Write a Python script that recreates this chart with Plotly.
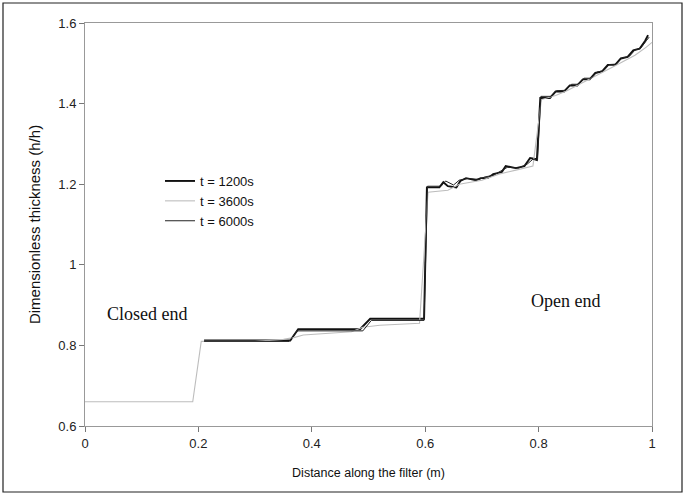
import plotly.graph_objects as go

# Thickness profiles along the filter at three times
x_1200 = [0.21, 0.30, 0.362, 0.376, 0.485, 0.503, 0.598, 0.603, 0.625, 0.632, 0.640, 0.655,
          0.662, 0.672, 0.690, 0.698, 0.710, 0.720, 0.735, 0.742, 0.760, 0.775, 0.785, 0.797,
          0.803, 0.820, 0.830, 0.845, 0.855, 0.868, 0.878, 0.890, 0.900, 0.912, 0.922, 0.935,
          0.945, 0.957, 0.967, 0.978, 0.988, 0.993]
y_1200 = [0.812, 0.812, 0.812, 0.840, 0.840, 0.866, 0.866, 1.192, 1.192, 1.205, 1.195, 1.192,
          1.208, 1.215, 1.210, 1.215, 1.215, 1.225, 1.230, 1.245, 1.240, 1.245, 1.265, 1.262,
          1.414, 1.414, 1.430, 1.430, 1.445, 1.445, 1.460, 1.460, 1.476, 1.480, 1.496, 1.496,
          1.512, 1.516, 1.532, 1.536, 1.556, 1.570]

x_3600 = [0.0, 0.19, 0.205, 0.30, 0.35, 0.37, 0.385, 0.47, 0.49, 0.52, 0.59, 0.605,
          0.640, 0.660, 0.700, 0.730, 0.760, 0.790, 0.805, 0.830, 0.850, 0.870, 0.890,
          0.910, 0.930, 0.950, 0.970, 0.990, 1.0]
y_3600 = [0.660, 0.660, 0.810, 0.810, 0.815, 0.820, 0.826, 0.834, 0.845, 0.850, 0.855, 1.180,
          1.185, 1.200, 1.210, 1.225, 1.235, 1.245, 1.410, 1.420, 1.432, 1.446, 1.460,
          1.474, 1.490, 1.505, 1.520, 1.540, 1.552]

x_6000 = [0.21, 0.36, 0.374, 0.49, 0.505, 0.598, 0.604, 0.628, 0.636, 0.650, 0.660, 0.675,
          0.695, 0.705, 0.720, 0.738, 0.745, 0.765, 0.780, 0.790, 0.798, 0.804, 0.822,
          0.832, 0.848, 0.858, 0.870, 0.880, 0.893, 0.903, 0.915, 0.925, 0.937, 0.947,
          0.960, 0.970, 0.980, 0.990, 0.995]
y_6000 = [0.810, 0.810, 0.836, 0.836, 0.862, 0.862, 1.195, 1.195, 1.208, 1.198, 1.210, 1.214,
          1.212, 1.218, 1.222, 1.235, 1.242, 1.240, 1.250, 1.262, 1.258, 1.418, 1.418,
          1.432, 1.433, 1.448, 1.448, 1.463, 1.463, 1.478, 1.482, 1.497, 1.498, 1.513,
          1.517, 1.533, 1.537, 1.556, 1.565]

x_ticks = [0, 0.2, 0.4, 0.6, 0.8, 1]
x_tick_text = ["0", "0.2", "0.4", "0.6", "0.8", "1"]
y_ticks = [0.6, 0.8, 1.0, 1.2, 1.4, 1.6]
y_tick_text = ["0.6", "0.8", "1", "1.2", "1.4", "1.6"]

W, H = 685, 495
L, R, T, B = 85, 33, 23, 69
pw, ph = W - L - R, H - T - B

fig = go.Figure()
fig.add_trace(go.Scatter(x=x_1200, y=y_1200, mode="lines", name="t = 1200s",
                         line=dict(color="#111111", width=1.9)))
fig.add_trace(go.Scatter(x=x_3600, y=y_3600, mode="lines", name="t = 3600s",
                         line=dict(color="#bdbdbd", width=1.1)))
fig.add_trace(go.Scatter(x=x_6000, y=y_6000, mode="lines", name="t = 6000s",
                         line=dict(color="#222222", width=1.0)))

sans = "Liberation Sans, Arial, sans-serif"
serif = "Liberation Serif, Times New Roman, serif"
tick_font = dict(family=sans, size=13, color="#222222")

fig.update_layout(
    width=W, height=H,
    margin=dict(l=L, r=R, t=T, b=B),
    paper_bgcolor="white", plot_bgcolor="white",
    showlegend=True,
    legend=dict(x=(160 - L) / pw, y=(426 - 166) / ph, xanchor="left", yanchor="top",
                bgcolor="rgba(0,0,0,0)", font=dict(family=sans, size=13, color="#111111"),
                itemwidth=30, tracegroupgap=0),
    xaxis=dict(range=[0, 1], tickvals=x_ticks, ticktext=x_tick_text, showgrid=False,
               zeroline=False, showline=True, linecolor="#999999", linewidth=1, mirror=True,
               ticks="outside", ticklen=5, tickcolor="#777777", tickfont=tick_font,
               title=dict(text="Distance along the filter (m)",
                          font=dict(family=sans, size=12.5, color="#111111"), standoff=18)),
    yaxis=dict(range=[0.6, 1.6], tickvals=y_ticks, ticktext=y_tick_text, showgrid=False,
               zeroline=False, showline=True, linecolor="#999999", linewidth=1, mirror=True,
               ticks="outside", ticklen=5, tickcolor="#777777", tickfont=tick_font,
               title=dict(text="Dimensionless thickness (h/h)",
                          font=dict(family=sans, size=15, color="#111111"), standoff=14)),
)

# Region labels
fig.add_annotation(x=0.110, y=0.878, xref="x", yref="y", text="Closed end",
                   showarrow=False, font=dict(family=serif, size=18, color="#111111"))
fig.add_annotation(x=0.848, y=0.910, xref="x", yref="y", text="Open end", showarrow=False,
                   font=dict(family=serif, size=18, color="#111111"))

# Frame around the whole figure
fig.add_shape(type="rect", xref="paper", yref="paper",
              x0=(3 - L) / pw, x1=(682 - L) / pw,
              y0=(426 - 492) / ph, y1=(426 - 3) / ph,
              line=dict(color="#222222", width=1.2), fillcolor="rgba(0,0,0,0)")

fig.write_html("out.html")
